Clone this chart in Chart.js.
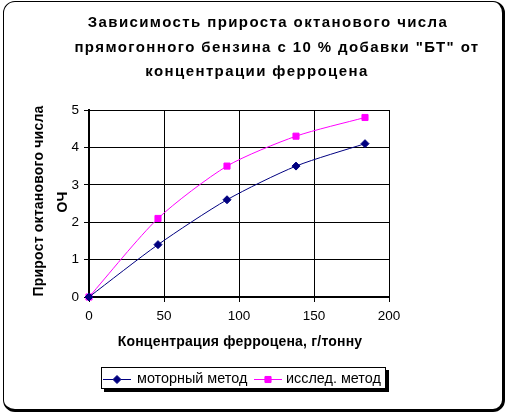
<!DOCTYPE html>
<html>
<head>
<meta charset="utf-8">
<script src="https://cdn.jsdelivr.net/npm/chart.js@4"></script>
<style>
  html, body { margin: 0; padding: 0; background: #fff; }
  #frame {
    position: absolute; left: 3px; top: 1px;
    width: 498px; height: 407px;
    border-style: solid; border-color: #000;
    border-width: 1px 3px 3px 1px;
    border-radius: 12px;
  }
  #c { position: absolute; left: 0; top: 0; }
</style>
</head>
<body>
<div id="frame"></div>
<canvas id="c" width="507" height="413"></canvas>
<script>
// данные с картинки
const concentration = [0, 46, 92, 138, 184];          // г/тонну
const motorMethod   = [0, 1.4, 2.6, 3.5, 4.1];        // моторный метод
const researchMethod = [0, 2.1, 3.5, 4.3, 4.8];       // исслед. метод
const xTickValues = [0, 50, 100, 150, 200];
const yTickValues = [0, 1, 2, 3, 4, 5];

const titleLines = [
    'Зависимость прироста октанового числа',
    'прямогонного бензина с 10 % добавки "БТ" от',
    'концентрации ферроцена'
];
const xTitle = 'Концентрация ферроцена, г/тонну';
const yTitle = ['Прирост октанового числа', 'ОЧ'];

const FONT = 'Arial, "Liberation Sans", sans-serif';

// точки {x, y}
function toPoints(values) {
    return concentration.map((x, i) => ({ x: x, y: values[i] }));
}

// заголовки и легенда в стиле Excel
const decorPlugin = {
    id: 'decor',
    afterDraw(chart) {
        const ctx = chart.ctx;
        ctx.save();
        ctx.fillStyle = '#000';
        ctx.textBaseline = 'middle';
        ctx.textAlign = 'center';

        // заголовок
        ctx.font = 'bold 15px ' + FONT;
        ctx.letterSpacing = '1.4px';
        const titleX = [268, 277, 257];
        const titleY = [23, 48, 72];
        titleLines.forEach((t, i) => ctx.fillText(t, titleX[i], titleY[i]));

        // подпись оси X
        ctx.font = 'bold 14px ' + FONT;
        ctx.letterSpacing = '0.2px';
        ctx.fillText(xTitle, 240, 342);

        // подпись оси Y (повёрнута)
        ctx.save();
        ctx.translate(39, 201);
        ctx.rotate(-Math.PI / 2);
        ctx.fillText(yTitle[0], 0, 0);
        ctx.restore();
        ctx.save();
        ctx.translate(63, 202);
        ctx.rotate(-Math.PI / 2);
        ctx.fillText(yTitle[1], 0, 0);
        ctx.restore();
        ctx.letterSpacing = '0px';

        // легенда
        const lx = 101, ly = 367, lw = 285, lh = 22;
        ctx.fillStyle = '#000';
        ctx.fillRect(lx + 3, ly + lh, lw, 3);
        ctx.fillRect(lx + lw, ly + 3, 3, lh);
        ctx.fillStyle = '#fff';
        ctx.fillRect(lx, ly, lw, lh);
        ctx.strokeStyle = '#000';
        ctx.lineWidth = 1;
        ctx.strokeRect(lx + 0.5, ly + 0.5, lw - 1, lh - 1);

        const items = [
            { x0: 103, x1: 131, tx: 137 },
            { x0: 254, x1: 282, tx: 286 }
        ];
        const cy = ly + 12;
        ctx.font = '14.4px ' + FONT;
        ctx.textAlign = 'left';
        chart.data.datasets.forEach((ds, i) => {
            const it = items[i];
            ctx.strokeStyle = ds.borderColor;
            ctx.lineWidth = 1;
            ctx.beginPath();
            ctx.moveTo(it.x0, cy + 0.5);
            ctx.lineTo(it.x1, cy + 0.5);
            ctx.stroke();
            Chart.helpers.drawPoint(ctx, {
                pointStyle: ds.pointStyle,
                radius: ds.pointRadius,
                borderWidth: 1
            }, (it.x0 + it.x1) / 2, cy + 0.5);
            ctx.fillStyle = ds.pointBackgroundColor;
            ctx.fill();
            ctx.fillStyle = '#000';
            ctx.fillText(ds.label, it.tx, cy);
        });
        ctx.restore();
    }
};

new Chart(document.getElementById('c'), {
    type: 'line',
    data: {
        datasets: [
            {
                label: 'моторный метод',
                data: toPoints(motorMethod),
                borderColor: '#000080',
                backgroundColor: '#000080',
                pointBackgroundColor: '#000080',
                pointBorderColor: '#000080',
                pointStyle: 'rectRot',
                pointRadius: 4,
                borderWidth: 1,
                tension: 0.25,
                clip: false
            },
            {
                label: 'исслед. метод',
                data: toPoints(researchMethod),
                borderColor: '#FF00FF',
                backgroundColor: '#FF00FF',
                pointBackgroundColor: '#FF00FF',
                pointBorderColor: '#FF00FF',
                pointStyle: 'rect',
                pointRadius: 4.3,
                borderWidth: 1,
                tension: 0.25,
                clip: false
            }
        ]
    },
    options: {
        responsive: false,
        animation: false,
        events: [],
        layout: { padding: { left: 0, top: 110, right: 118, bottom: 0 } },
        plugins: {
            legend: { display: false },
            title: { display: false },
            tooltip: { enabled: false }
        },
        scales: {
            x: {
                type: 'linear',
                min: xTickValues[0],
                max: xTickValues[xTickValues.length - 1],
                afterFit(scale) { scale.height = 116; },
                ticks: {
                    stepSize: xTickValues[1] - xTickValues[0],
                    color: '#000',
                    font: { family: FONT, size: 13.5 },
                    padding: 6,
                    maxRotation: 0
                },
                grid: { color: '#000', lineWidth: 1, tickLength: 5 },
                border: { color: '#000', width: 2 }
            },
            y: {
                min: yTickValues[0],
                max: yTickValues[yTickValues.length - 1],
                afterFit(scale) { scale.width = 89; },
                ticks: {
                    stepSize: yTickValues[1] - yTickValues[0],
                    color: '#000',
                    font: { family: FONT, size: 13.5 },
                    padding: 5
                },
                grid: { color: '#000', lineWidth: 1, tickLength: 5 },
                border: { color: '#000', width: 2 }
            }
        }
    },
    plugins: [decorPlugin]
});
</script>
</body>
</html>
